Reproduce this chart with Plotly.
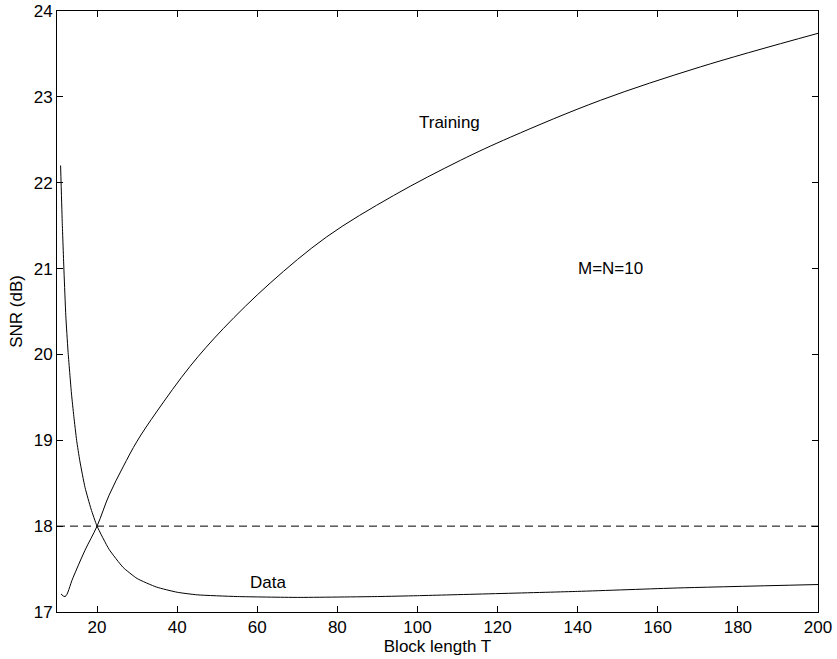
import plotly.graph_objects as go

# Training curve
train_T = [11, 12, 14, 17, 20, 23, 26.5, 30, 34.85, 43.2, 51.5, 63.2, 77.35, 94, 110.7, 123.2, 145.7, 170.7, 200]
train_snr = [17.21, 17.18, 17.40, 17.72, 18.0, 18.36, 18.69, 18.99, 19.33, 19.86, 20.30, 20.83, 21.37, 21.85, 22.26, 22.53, 22.96, 23.35, 23.74]

# Data curve
data_T = [10.9, 11.3, 11.75, 12.2, 12.75, 13.6, 14.2, 14.9, 15.7, 17, 18.5, 20, 23, 26.5, 30, 34.85, 40, 45, 55, 70, 90, 100, 140, 165, 200]
data_snr = [22.20, 21.55, 20.96, 20.45, 20.04, 19.55, 19.28, 19.0, 18.76, 18.45, 18.2, 18.0, 17.73, 17.52, 17.39, 17.29, 17.23, 17.20, 17.18, 17.17, 17.18, 17.19, 17.24, 17.28, 17.32]

# Reference level
ref_T = [10, 200]
ref_snr = [18, 18]

x_ticks = [20, 40, 60, 80, 100, 120, 140, 160, 180, 200]
y_ticks = [17, 18, 19, 20, 21, 22, 23, 24]

FONT = "Liberation Sans, Arial, Helvetica, sans-serif"
FS = 17

fig = go.Figure()
fig.add_trace(go.Scatter(x=train_T, y=train_snr, mode="lines",
                         line=dict(color="black", width=1, shape="spline", smoothing=1.0)))
fig.add_trace(go.Scatter(x=data_T, y=data_snr, mode="lines",
                         line=dict(color="black", width=1, shape="spline", smoothing=0.5)))
fig.add_trace(go.Scatter(x=ref_T, y=ref_snr, mode="lines",
                         line=dict(color="black", width=1, dash="8px,5px")))

fig.add_annotation(x=107.9, y=22.70, text="Training", showarrow=False,
                   font=dict(size=FS, color="black", family=FONT))
fig.add_annotation(x=148.2, y=21.0, text="M=N=10", showarrow=False,
                   font=dict(size=FS, color="black", family=FONT))
fig.add_annotation(x=62.75, y=17.34, text="Data", showarrow=False,
                   font=dict(size=FS, color="black", family=FONT))

axis_common = dict(showline=True, linecolor="black", linewidth=1, mirror="allticks",
                   ticks="inside", ticklen=6, tickwidth=1, tickcolor="black",
                   showgrid=False, zeroline=False, automargin=False,
                   tickfont=dict(size=FS, color="black", family=FONT))

fig.update_xaxes(range=[10, 200], tickvals=x_ticks,
                 title=dict(text="Block length T", standoff=2,
                            font=dict(size=FS, color="black", family=FONT)),
                 **axis_common)
fig.update_yaxes(range=[17, 24], tickvals=y_ticks,
                 title=dict(text="SNR (dB)", standoff=6,
                            font=dict(size=FS, color="black", family=FONT)),
                 **axis_common)

fig.update_layout(width=837, height=659, showlegend=False,
                  plot_bgcolor="white", paper_bgcolor="white",
                  margin=dict(l=57, r=19, t=11, b=47, pad=0))

fig.write_html("out.html", config={"displayModeBar": False},
               post_script="document.body.style.margin='0';document.body.style.overflow='hidden';")
